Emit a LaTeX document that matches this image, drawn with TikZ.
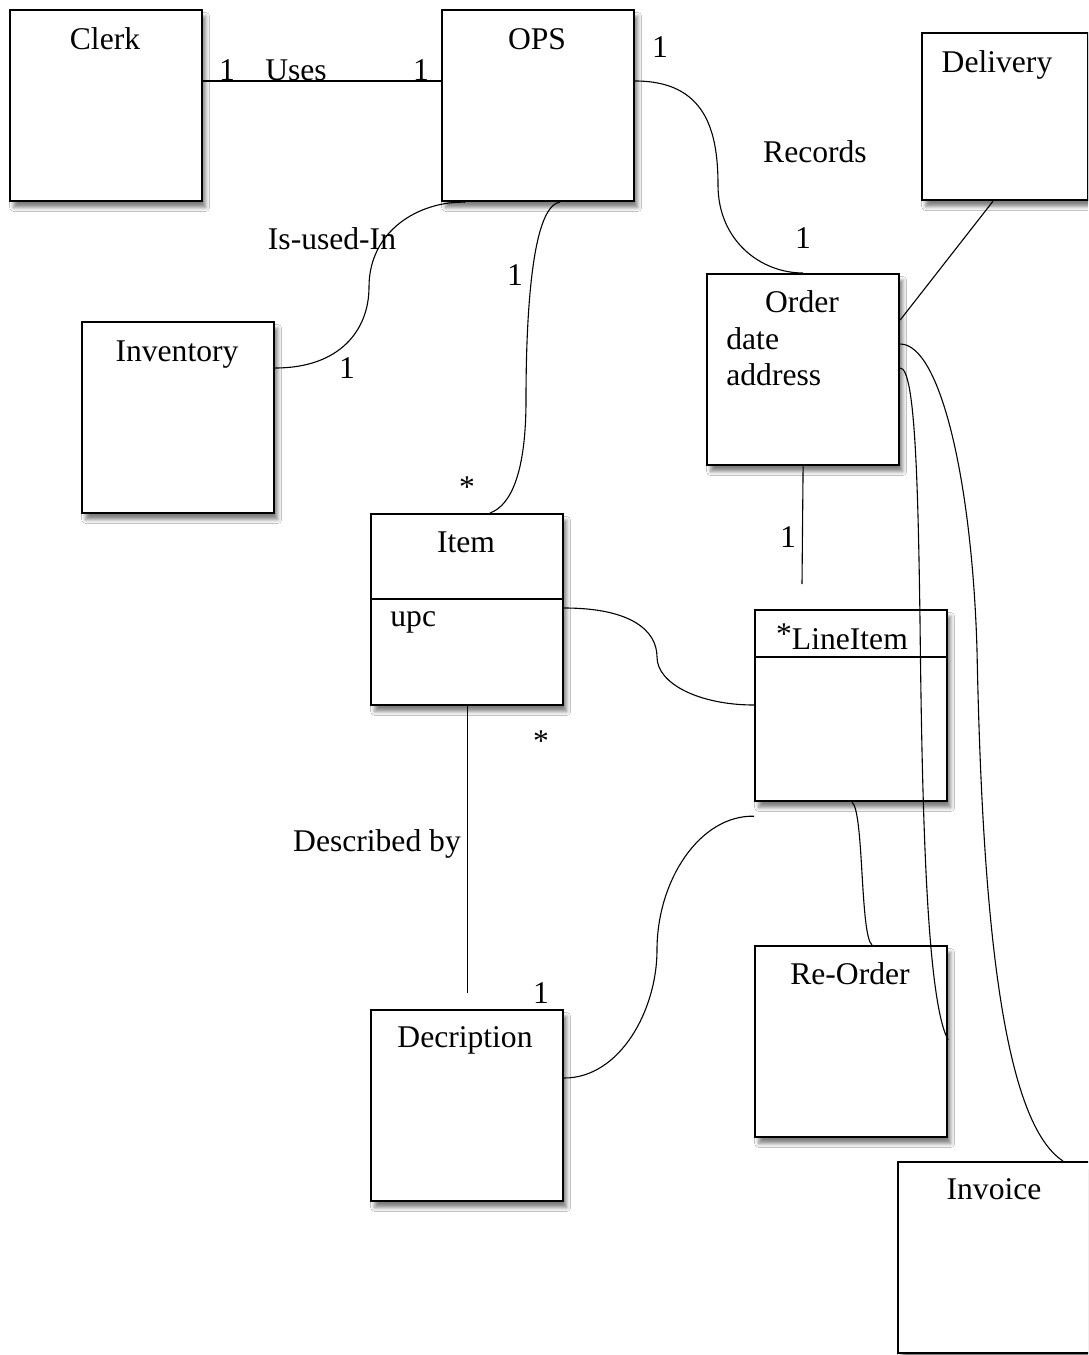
\documentclass[tikz,border=0pt]{standalone}
\usepackage{fontspec}
\setmainfont{Liberation Serif}
\usetikzlibrary{shadows.blur}

\begin{document}
\begin{tikzpicture}[x=0.5pt,y=-0.5pt,
  box/.style={draw, line width=1.1pt, fill=white, anchor=north west,
    minimum width=96pt, minimum height=95.5pt, inner sep=0pt,
    blur shadow={shadow xshift=1.8pt, shadow yshift=-3.2pt,
      shadow blur radius=2pt, shadow opacity=50}},
  lbl/.style={anchor=base, inner sep=0pt, font=\fontsize{15.8}{18}\selectfont},
  lbll/.style={lbl, anchor=base west},
  link/.style={line width=0.55pt},
]
\clip (0,0) rectangle (1088,1355);
\fill[white] (0,0) rectangle (1088,1355);

% class boxes
\node[box] (clerk) at (9,9) {};
\node[box] (ops) at (441,9) {};
\node[box, minimum width=83pt, minimum height=83.5pt] (delivery) at (921,32) {};
\node[box] (inventory) at (81,321) {};
\node[box] (order) at (706,273) {};
\node[box] (item) at (370,513) {};
\node[box] (lineitem) at (754,609) {};
\node[box] (reorder) at (754,945) {};
\node[box] (descr) at (370,1009) {};
\node[box] (invoice) at (897,1161) {};

% compartment dividers
\draw[line width=0.6pt] ([yshift=-43pt]item.north west) -- ([yshift=-43pt]item.north east);
\draw[line width=0.6pt] ([yshift=-24pt]lineitem.north west) -- ([yshift=-24pt]lineitem.north east);

% class names and attributes
\node[lbl] (tclerk) at (105,49) {Clerk};
\node[lbl] (tops) at (537,49) {OPS};
\node[lbl] (tdelivery) at (997,72) {Delivery};
\node[lbl] (tinventory) at (177,361) {Inventory};
\node[lbl] (torder) at (802,312) {Order};
\node[lbll] (tdate) at (726,349) {date};
\node[lbll] (taddress) at (726,385) {address};
\node[lbl] (titem) at (466,552) {Item};
\node[lbll] (tupc) at (390,626) {upc};
\node[lbl] (tlineitem) at (842,649) {\raisebox{2.5pt}{*}LineItem};
\node[lbl] (treorder) at (850,984) {Re-Order};
\node[lbl] (tdescr) at (465,1047) {Decription};
\node[lbl] (tinvoice) at (994,1199) {Invoice};

% free ends of open connectors
\coordinate (orderfoot) at (802,584);

% associations
\draw[link] ([yshift=-36pt]clerk.north east) -- ([yshift=-36pt]ops.north west);
\draw[link] ([yshift=-36pt]ops.north east)
  .. controls (705,81) and (718,130) .. (718,185)
  .. controls (718,240) and (760,273) .. (order.north);
\draw[link] ([xshift=12pt]ops.south west)
  .. controls (420,201) and (369,230) .. (369,287)
  .. controls (369,330) and (340,368) .. ([yshift=-23.5pt]inventory.north east);
\draw[link] ([xshift=59.5pt]ops.south west)
  .. controls (530,206) and (526,330) .. (526,400)
  .. controls (526,470) and (512,505) .. ([xshift=60pt]item.north west);
\draw[link] ([xshift=36pt]delivery.south west) -- ([yshift=-23.5pt]order.north east);
\draw[link] (order.south) -- (orderfoot);
\draw[link] ([yshift=-35.5pt]order.north east)
  .. controls (940,344) and (972,480) .. (977,650)
  .. controls (982,900) and (1000,1120) .. ([xshift=83pt]invoice.north west);
\draw[link] ([yshift=-47.5pt]order.north east)
  .. controls (915,368) and (918,480) .. (920,620)
  .. controls (922,800) and (926,1000) .. ([yshift=-47.5pt]reorder.north east);
\draw[link] ([yshift=-47.5pt]item.north east)
  .. controls (630,608) and (657,630) .. (657,657)
  .. controls (657,684) and (700,705) .. ([yshift=-48pt]lineitem.north west);
\draw[link] (item.south) -- ([yshift=8pt]descr.north);
\draw[link] ([yshift=-34.5pt]descr.north east)
  .. controls (620,1078) and (657,1010) .. (657,950)
  .. controls (657,880) and (700,815) .. ([yshift=-7pt]lineitem.south west);
\draw[link] ([xshift=0.5pt]lineitem.south)
  .. controls (864,812) and (860,935) .. ([xshift=59pt]reorder.north west);

% association names and multiplicities
\node[lbl] (m1) at (227,80) {1};
\node[lbl] (nuses) at (296,80) {Uses};
\node[lbl] (m2) at (421,80) {1};
\node[lbl] (m3) at (660,57) {1};
\node[lbl] (nrecords) at (815,162) {Records};
\node[lbl] (m4) at (803,248) {1};
\node[lbl] (nisused) at (332,249) {Is-used-In};
\node[lbl] (m5) at (347,378) {1};
\node[lbl] (m6) at (515,285) {1};
\node[lbl] (m7) at (467,497) {*};
\node[lbl] (m8) at (788,547) {1};
\node[lbl] (m9) at (541,751) {*};
\node[lbl] (ndescribed) at (377,851) {Described by};
\node[lbl] (m10) at (541,1003) {1};
\end{tikzpicture}
\end{document}
